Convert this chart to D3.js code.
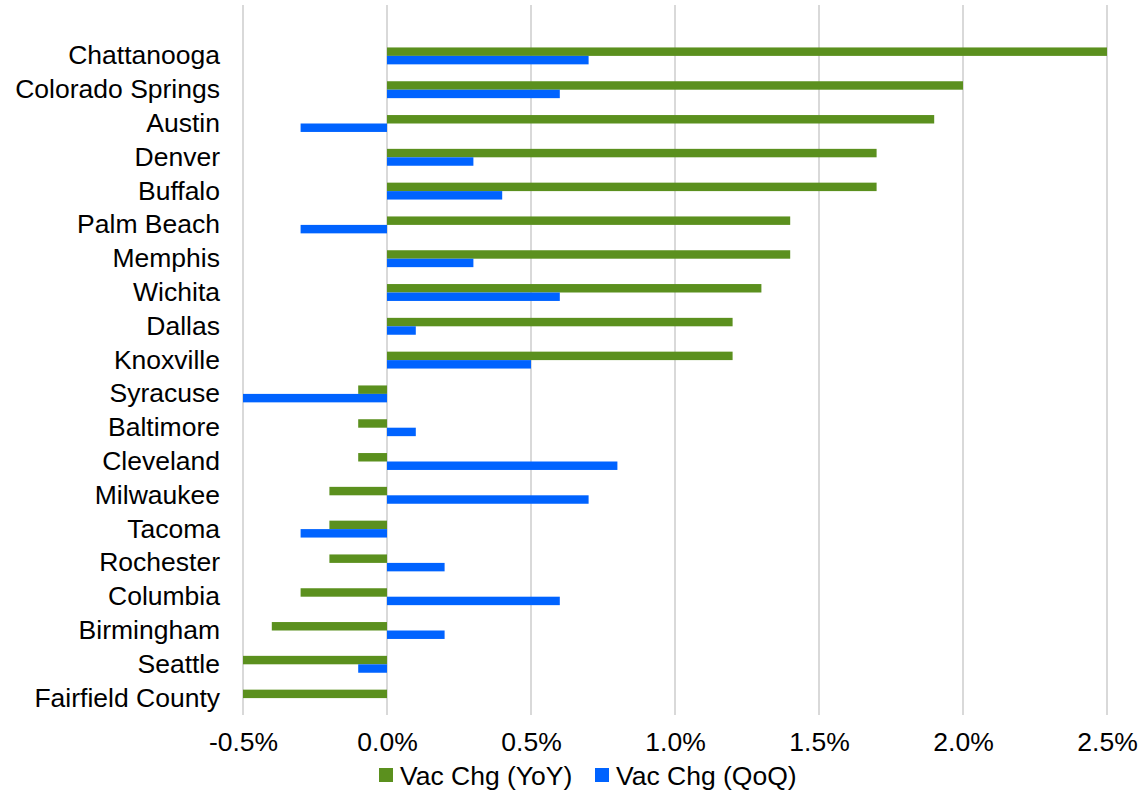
<!DOCTYPE html>
<html>
<head>
<meta charset="utf-8">
<script src="https://cdn.jsdelivr.net/npm/d3@7"></script>
<style>
  html, body { margin: 0; padding: 0; background: #fff; }
  svg { display: block; font-family: "Liberation Sans", Arial, sans-serif; }
</style>
</head>
<body>
<svg id="chart" width="1142" height="792"></svg>
<script>
// Markets, top to bottom
const markets = ["Chattanooga", "Colorado Springs", "Austin", "Denver", "Buffalo",
  "Palm Beach", "Memphis", "Wichita", "Dallas", "Knoxville", "Syracuse", "Baltimore",
  "Cleveland", "Milwaukee", "Tacoma", "Rochester", "Columbia", "Birmingham", "Seattle",
  "Fairfield County"];
// Vacancy change, percentage points
const vacChgYoY = [2.5, 2.0, 1.9, 1.7, 1.7, 1.4, 1.4, 1.3, 1.2, 1.2,
  -0.1, -0.1, -0.1, -0.2, -0.2, -0.2, -0.3, -0.4, -0.5, -0.5];
const vacChgQoQ = [0.7, 0.6, -0.3, 0.3, 0.4, -0.3, 0.3, 0.6, 0.1, 0.5,
  -0.5, 0.1, 0.8, 0.7, -0.3, 0.2, 0.6, 0.2, -0.1, 0.0];
const xTicks = [-0.5, 0.0, 0.5, 1.0, 1.5, 2.0, 2.5];
const seriesNames = ["Vac Chg (YoY)", "Vac Chg (QoQ)"];
const seriesColors = ["#5b901e", "#0063ff"];

const svg = d3.select("#chart");
const plotLeft = 243, plotRight = 1107, plotTop = 39, plotBottom = 715, gridTop = 5;
const fontSize = 26.5;

const x = d3.scaleLinear().domain([-0.5, 2.5]).range([plotLeft, plotRight]);
const y = d3.scaleBand().domain(markets).range([plotTop, plotBottom])
  .paddingInner(0.5).paddingOuter(0.25);
const sub = d3.scaleBand().domain([0, 1]).range([0, y.bandwidth()]);

// vertical gridlines
svg.append("g").selectAll("line").data(xTicks).join("line")
  .attr("x1", d => x(d)).attr("x2", d => x(d))
  .attr("y1", gridTop).attr("y2", plotBottom)
  .attr("stroke", "#d9d9d9").attr("stroke-width", 2);

// bars
const series = [vacChgYoY, vacChgQoQ];
series.forEach((vals, si) => {
  svg.append("g").selectAll("rect").data(markets).join("rect")
    .attr("x", (d, i) => x(Math.min(0, vals[i])))
    .attr("width", (d, i) => Math.abs(x(vals[i]) - x(0)))
    .attr("y", d => y(d) + sub(si))
    .attr("height", sub.bandwidth())
    .attr("fill", seriesColors[si]);
});

// category labels
const yAxis = d3.axisLeft(y).tickSize(0).tickPadding(0);
svg.append("g").attr("transform", "translate(220,0)").call(yAxis)
  .call(g => g.select(".domain").remove())
  .selectAll("text")
  .attr("font-size", fontSize).attr("fill", "#000")
  .attr("font-family", "'Liberation Sans', Arial, sans-serif");

// value axis labels (plain hyphen for negatives)
const xAxis = d3.axisBottom(x).tickValues(xTicks).tickSize(0).tickPadding(0)
  .tickFormat(d => (d < 0 ? "-" : "") + Math.abs(d).toFixed(1) + "%");
svg.append("g").attr("transform", "translate(0,732)").call(xAxis)
  .call(g => g.select(".domain").remove())
  .selectAll("text")
  .attr("font-size", fontSize).attr("fill", "#000")
  .attr("font-family", "'Liberation Sans', Arial, sans-serif");

// legend
const legend = svg.append("g");
const legendX = [379, 595];
seriesNames.forEach((name, i) => {
  legend.append("rect").attr("x", legendX[i]).attr("y", 768).attr("width", 14).attr("height", 14)
    .attr("fill", seriesColors[i]);
  legend.append("text").attr("x", legendX[i] + 21).attr("y", 785)
    .attr("font-size", fontSize).attr("fill", "#000").text(name);
});
</script>
</body>
</html>
